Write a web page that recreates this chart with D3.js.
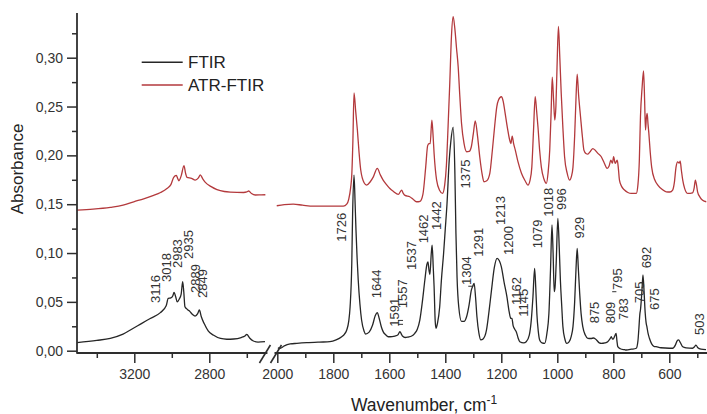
<!DOCTYPE html>
<html>
<head>
<meta charset="utf-8">
<script src="https://cdn.jsdelivr.net/npm/d3@7/dist/d3.min.js"></script>
<style>
  html, body { margin: 0; padding: 0; background: #fff; }
  svg { display: block; font-family: Arial, "Liberation Sans", Helvetica, sans-serif; }
</style>
</head>
<body>
<svg id="chart" width="707" height="414"></svg>
<script>
// ---------------- DATA ----------------
// FTIR (black) – high wavenumber segment [wavenumber, absorbance]
const ftirHigh = [
  [3505,0.0082],[3400,0.0105],[3328,0.0127],[3260,0.017],[3221,0.0212],[3160,0.028],
  [3115,0.033],[3061,0.039],[3030,0.046],[3019,0.0536],[3005,0.054],[2995,0.056],[2988,0.0598],
  [2979,0.055],[2971,0.050],[2960,0.053],[2950,0.058],[2942,0.0706],[2936,0.060],[2930,0.045],
  [2915,0.042],[2903,0.040],[2889,0.037],[2876,0.0355],[2862,0.038],[2853,0.0417],[2843,0.035],
  [2828,0.028],[2805,0.020],[2779,0.016],[2740,0.0125],[2707,0.0117],[2670,0.012],
  [2630,0.0135],[2610,0.015],[2600,0.0168],[2585,0.013],[2565,0.0099],[2540,0.0088],[2503,0.0092]
];
// ATR-FTIR (red) – high wavenumber segment
const atrHigh = [
  [3505,0.144],[3420,0.145],[3328,0.1468],[3260,0.149],[3203,0.1525],[3150,0.1555],
  [3097,0.159],[3060,0.162],[3026,0.166],[3005,0.170],[2990,0.1775],[2976,0.1795],
  [2968,0.176],[2962,0.174],[2950,0.179],[2935,0.1894],[2927,0.182],[2919,0.1775],
  [2895,0.1765],[2875,0.1747],[2858,0.177],[2848,0.180],[2835,0.176],[2821,0.1723],
  [2790,0.168],[2759,0.165],[2720,0.163],[2688,0.1624],[2617,0.162],[2600,0.1625],
  [2590,0.1635],[2575,0.161],[2555,0.1594],[2530,0.1595],[2501,0.1597]
];
// FTIR (black) – low wavenumber segment
const ftirLow = [
  [1998,0.003],[1990,0.0025],[1975,0.005],[1954,0.0069],[1930,0.0075],[1895,0.0082],
  [1850,0.0088],[1812,0.0092],[1790,0.011],[1770,0.0143],[1760,0.017],[1752,0.0212],
  [1745,0.030],[1740,0.045],[1734,0.0895],[1731,0.1406],[1726,0.1798],[1722,0.150],
  [1719,0.1235],[1715,0.095],[1711,0.0724],[1705,0.048],[1699,0.0314],[1690,0.020],
  [1685,0.017],[1672,0.019],[1660,0.026],[1650,0.036],[1643,0.039],[1636,0.033],
  [1628,0.024],[1622,0.0195],[1612,0.016],[1604,0.0143],[1590,0.0145],[1580,0.015],
  [1570,0.016],[1562,0.0195],[1557,0.017],[1553,0.015],[1543,0.0135],[1533,0.014],
  [1520,0.015],[1509,0.0178],[1500,0.022],[1491,0.0314],[1482,0.050],[1473,0.0724],
  [1466,0.088],[1462,0.091],[1458,0.082],[1455,0.078],[1450,0.100],[1447,0.108],
  [1443,0.085],[1440,0.0655],[1436,0.030],[1433,0.023],[1428,0.028],[1420,0.045],
  [1414,0.072],[1406,0.100],[1400,0.125],[1394,0.150],[1386,0.195],[1380,0.215],
  [1372,0.229],[1366,0.185],[1362,0.12],[1358,0.075],[1352,0.045],[1342,0.030],
  [1333,0.030],[1324,0.0348],[1315,0.047],[1307,0.062],[1302,0.066],[1297,0.069],
  [1292,0.055],[1287,0.0348],[1280,0.018],[1273,0.011],[1265,0.012],[1253,0.021],
  [1244,0.040],[1235,0.062],[1225,0.085],[1215,0.0946],[1207,0.092],[1200,0.086],
  [1190,0.070],[1180,0.0553],[1172,0.040],[1166,0.033],[1162,0.033],[1158,0.026],
  [1152,0.022],[1146,0.019],[1140,0.013],[1134,0.0092],[1120,0.008],[1111,0.0092],
  [1100,0.016],[1093,0.031],[1087,0.055],[1081,0.0843],[1077,0.065],[1073,0.038],
  [1068,0.020],[1063,0.011],[1055,0.008],[1045,0.0075],[1037,0.018],[1030,0.038],
  [1024,0.085],[1019,0.1287],[1015,0.100],[1011,0.0604],[1008,0.065],[1004,0.0894],
  [998,0.1355],[993,0.105],[989,0.0724],[984,0.045],[980,0.0246],[973,0.012],
  [966,0.0075],[958,0.009],[950,0.015],[944,0.0246],[938,0.050],[933,0.085],
  [929,0.1048],[925,0.085],[920,0.0587],[915,0.038],[909,0.0246],[900,0.016],
  [891,0.0127],[880,0.0125],[870,0.013],[860,0.011],[850,0.008],[843,0.0075],
  [830,0.008],[820,0.0092],[812,0.012],[807,0.0143],[803,0.012],[800,0.012],
  [795,0.0150],[790,0.0178],[787,0.010],[784,0.0041],[775,0.002],[760,0.001],
  [754,0.0007],[735,0.0015],[718,0.0025],[712,0.010],[709,0.0212],[705,0.038],
  [703,0.0417],[698,0.060],[694,0.0775],[690,0.060],[686,0.0383],[683,0.029],
  [680,0.0246],[676,0.018],[671,0.0127],[663,0.007],[655,0.0045],[647,0.0041],
  [630,0.003],[600,0.0025],[588,0.0025],[578,0.006],[572,0.010],[567,0.011],
  [560,0.008],[552,0.0041],[540,0.003],[517,0.0025],[510,0.004],[505,0.0058],
  [498,0.003],[487,0.0015],[469,0.001]
];
// ATR-FTIR (red) – low wavenumber segment
const atrLow = [
  [2002,0.1484],[1975,0.1495],[1943,0.150],[1910,0.149],[1871,0.148],[1820,0.148],
  [1764,0.148],[1752,0.150],[1745,0.155],[1738,0.167],[1734,0.180],[1730,0.215],
  [1726,0.264],[1720,0.245],[1714,0.226],[1708,0.203],[1702,0.185],[1690,0.172],
  [1681,0.1696],[1668,0.173],[1657,0.178],[1643,0.1867],[1632,0.180],[1622,0.1747],
  [1610,0.170],[1598,0.166],[1585,0.163],[1568,0.160],[1556,0.1645],[1550,0.161],
  [1544,0.159],[1527,0.1576],[1515,0.155],[1503,0.1525],[1490,0.153],[1480,0.160],
  [1470,0.188],[1463,0.210],[1458,0.212],[1454,0.212],[1448,0.236],[1444,0.222],
  [1440,0.202],[1431,0.1747],[1420,0.164],[1410,0.161],[1402,0.170],[1396,0.190],
  [1390,0.230],[1384,0.274],[1378,0.322],[1372,0.342],[1366,0.330],[1360,0.310],
  [1354,0.2907],[1348,0.260],[1342,0.2327],[1333,0.212],[1324,0.2037],[1315,0.204],
  [1307,0.2088],[1300,0.222],[1293,0.2354],[1285,0.220],[1277,0.1986],[1268,0.180],
  [1262,0.173],[1252,0.174],[1241,0.1816],[1232,0.205],[1224,0.229],[1216,0.250],
  [1210,0.2566],[1200,0.260],[1193,0.255],[1188,0.2464],[1178,0.228],[1170,0.2157],
  [1166,0.212],[1161,0.2198],[1156,0.212],[1150,0.2054],[1140,0.193],[1128,0.1816],
  [1115,0.174],[1105,0.1696],[1097,0.175],[1091,0.188],[1085,0.225],[1079,0.260],
  [1074,0.246],[1069,0.229],[1063,0.205],[1057,0.188],[1048,0.176],[1039,0.1713],
  [1033,0.182],[1027,0.2054],[1022,0.245],[1018,0.280],[1013,0.255],[1009,0.236],
  [1005,0.250],[1001,0.290],[996,0.332],[991,0.300],[986,0.2635],[980,0.228],
  [974,0.1986],[965,0.182],[956,0.1747],[950,0.178],[944,0.188],[938,0.220],
  [933,0.260],[929,0.2832],[924,0.262],[917,0.2395],[910,0.218],[905,0.2054],
  [898,0.202],[891,0.2013],[882,0.204],[873,0.207],[864,0.205],[855,0.202],
  [843,0.1986],[832,0.192],[822,0.1867],[815,0.189],[809,0.195],[803,0.192],
  [799,0.1986],[793,0.1918],[786,0.195],[782,0.187],[778,0.1747],[770,0.168],
  [760,0.1645],[748,0.162],[736,0.161],[718,0.161],[712,0.170],[707,0.195],
  [703,0.2395],[697,0.270],[692,0.2866],[688,0.255],[685,0.2259],[682,0.238],
  [679,0.243],[676,0.232],[673,0.2225],[668,0.203],[663,0.188],[652,0.175],
  [641,0.1696],[625,0.165],[611,0.1627],[598,0.1625],[588,0.1645],[582,0.172],
  [576,0.188],[570,0.1934],[565,0.192],[561,0.194],[557,0.185],[552,0.1747],
  [545,0.166],[534,0.161],[517,0.1617],[511,0.167],[507,0.1747],[503,0.170],
  [499,0.1627],[490,0.157],[481,0.154],[468,0.1525]
];
// Peak labels: text, segment, wavenumber & absorbance of the label's lower end
const peakLabelsHigh = [
  ["3116",3089,0.0488],["3018",3026,0.0703],["2983",2967,0.0846],
  ["2935",2911,0.0939],["2889",2876,0.0591],["2849",2834,0.0539]
];
const peakLabelsLow = [
  ["1726",1770,0.1116],["1644",1645,0.0536],["1591",1580,0.0246],["1557",1553,0.0434],
  ["1537",1520,0.0826],["1462",1477,0.1099],["1442",1431,0.1235],["1375",1327,0.1662],
  ["1304",1324,0.0672],["1291",1283,0.0962],["1213",1202,0.1287],["1200",1176,0.098],
  ["1162",1144,0.0468],["1145",1120,0.0348],["1079",1069,0.1048],["1018",1030,0.1372],
  ["996",986,0.144],["929",920,0.115],["875",867,0.028],["809",811,0.028],
  ["795",784,0.0621],["783",764,0.0314],["705",707,0.0485],["692",683,0.0843],
  ["675",653,0.0417],["503",493,0.0161]
];
const yTickValues = [0, 0.05, 0.10, 0.15, 0.20, 0.25, 0.30];
const yMinorValues = [0.025, 0.075, 0.125, 0.175, 0.225, 0.275, 0.325];
const xHighMajor = [3200, 2800];
const xHighMinor = [3400, 3000, 2600];
const xLowMajor = [2000, 1800, 1600, 1400, 1200, 1000, 800, 600];
const xLowMinor = [1900, 1700, 1500, 1300, 1100, 900, 700, 500];
const seriesNames = ["FTIR", "ATR-FTIR"];
const seriesColors = ["#262626", "#b3393c"];

// ---------------- LAYOUT ----------------
const svg = d3.select("#chart");
const axisColor = "#2e2e2e";
const textColor = "#333";
const plotTop = 13, plotBottom = 353, axisX = 77;

const y = d3.scaleLinear().domain([0, 0.30]).range([350.7, 57.7]);
const xH = d3.scaleLinear().domain([3500, 2500]).range([78.05, 265.55]);
const xL = d3.scaleLinear().domain([2000, 600]).range([277.3, 669.3]);

svg.append("defs").append("clipPath").attr("id", "clip")
  .append("rect").attr("x", axisX).attr("y", 0).attr("width", 707 - axisX).attr("height", plotBottom);

const lineH = d3.line().x(d => xH(d[0])).y(d => y(d[1])).curve(d3.curveMonotoneX);
const lineL = d3.line().x(d => xL(d[0])).y(d => y(d[1])).curve(d3.curveMonotoneX);

const plot = svg.append("g").attr("clip-path", "url(#clip)");
plot.append("path").datum(atrHigh).attr("d", lineH).attr("fill", "none")
  .attr("stroke", seriesColors[1]).attr("stroke-width", 1.3).attr("stroke-linejoin", "round");
plot.append("path").datum(atrLow).attr("d", lineL).attr("fill", "none")
  .attr("stroke", seriesColors[1]).attr("stroke-width", 1.3).attr("stroke-linejoin", "round");
plot.append("path").datum(ftirHigh).attr("d", lineH).attr("fill", "none")
  .attr("stroke", seriesColors[0]).attr("stroke-width", 1.3).attr("stroke-linejoin", "round");
plot.append("path").datum(ftirLow).attr("d", lineL).attr("fill", "none")
  .attr("stroke", seriesColors[0]).attr("stroke-width", 1.3).attr("stroke-linejoin", "round");

// ---------------- Y AXIS ----------------
const fmt = d => d.toFixed(2).replace(".", ",");
const yAxisG = svg.append("g").attr("transform", `translate(${axisX},0)`)
  .call(d3.axisLeft(y).tickValues(yTickValues).tickFormat(fmt).tickSize(10).tickPadding(4));
yAxisG.select(".domain").remove();
yAxisG.selectAll(".tick line").attr("stroke", axisColor).attr("stroke-width", 1.5);
yAxisG.selectAll(".tick text").attr("fill", textColor).attr("font-size", 14)
  .attr("font-family", "Arial, 'Liberation Sans', sans-serif");
const yMinorG = svg.append("g").attr("transform", `translate(${axisX},0)`)
  .call(d3.axisLeft(y).tickValues(yMinorValues).tickFormat("").tickSize(5));
yMinorG.select(".domain").remove();
yMinorG.selectAll(".tick line").attr("stroke", axisColor).attr("stroke-width", 1.5);
svg.append("line").attr("x1", axisX).attr("x2", axisX).attr("y1", plotTop).attr("y2", plotBottom + 0.8)
  .attr("stroke", axisColor).attr("stroke-width", 1.8);

// ---------------- X AXES ----------------
function xAxis(scale, major, minor, x1, x2) {
  const g = svg.append("g").attr("transform", `translate(0,${plotBottom})`)
    .call(d3.axisBottom(scale).tickValues(major).tickFormat(d3.format("d")).tickSize(10).tickPadding(6));
  g.select(".domain").remove();
  g.selectAll(".tick line").attr("stroke", axisColor).attr("stroke-width", 1.5);
  g.selectAll(".tick text").attr("fill", textColor).attr("font-size", 14)
    .attr("font-family", "Arial, 'Liberation Sans', sans-serif");
  const gm = svg.append("g").attr("transform", `translate(0,${plotBottom})`)
    .call(d3.axisBottom(scale).tickValues(minor).tickFormat("").tickSize(5));
  gm.select(".domain").remove();
  gm.selectAll(".tick line").attr("stroke", axisColor).attr("stroke-width", 1.5);
  svg.append("line").attr("x1", x1).attr("x2", x2).attr("y1", plotBottom).attr("y2", plotBottom)
    .attr("stroke", axisColor).attr("stroke-width", 1.8);
}
xAxis(xH, xHighMajor, xHighMinor, axisX, xH(2490));
xAxis(xL, xLowMajor, xLowMinor, xL(2010), 707);

// axis break marks
const brk = svg.append("g").attr("stroke", axisColor).attr("stroke-width", 1.6);
brk.append("line").attr("x1", xH(2490) - 8).attr("y1", plotBottom + 10).attr("x2", xH(2490) + 3).attr("y2", plotBottom - 8);
brk.append("line").attr("x1", xL(2010) - 4).attr("y1", plotBottom + 10).attr("x2", xL(2010) + 7).attr("y2", plotBottom - 8);

// ---------------- PEAK LABELS ----------------
function peakLabels(arr, scale) {
  svg.append("g").selectAll("text").data(arr).join("text")
    .attr("transform", d => `translate(${scale(d[1])},${y(d[2])}) rotate(-90)`)
    .attr("dominant-baseline", "central")
    .attr("text-anchor", "start")
    .attr("font-size", 13)
    .attr("fill", textColor)
    .text(d => d[0]);
}
peakLabels(peakLabelsHigh, xH);
peakLabels(peakLabelsLow, xL);
// small leader marks
const lead = svg.append("g").attr("stroke", textColor).attr("stroke-width", 1);
lead.append("line").attr("x1", xL(1569)).attr("x2", xL(1551)).attr("y1", y(0.031)).attr("y2", y(0.031));
lead.append("line").attr("x1", xL(1569)).attr("x2", xL(1551)).attr("y1", y(0.027)).attr("y2", y(0.027));
lead.append("line").attr("x1", xL(1318)).attr("x2", xL(1300)).attr("y1", y(0.066)).attr("y2", y(0.066));
lead.append("line").attr("x1", xL(804)).attr("x2", xL(789)).attr("y1", y(0.0604)).attr("y2", y(0.0604));

// ---------------- AXIS TITLES ----------------
const xt = svg.append("text").attr("x", 351).attr("y", 411).attr("font-size", 17.5).attr("fill", "#222")
  .text("Wavenumber, cm");
xt.append("tspan").attr("font-size", 12).attr("dy", -7).text("-1");
svg.append("text").attr("transform", "translate(23,169) rotate(-90)")
  .attr("text-anchor", "middle").attr("font-size", 17).attr("fill", "#222").text("Absorbance");

// ---------------- LEGEND ----------------
const legend = svg.append("g");
seriesNames.forEach((name, i) => {
  const ly = 62.3 + i * 22.7;
  legend.append("line").attr("x1", 141.7).attr("x2", 182.7).attr("y1", ly).attr("y2", ly)
    .attr("stroke", seriesColors[i]).attr("stroke-width", 1.4);
  legend.append("text").attr("x", 188).attr("y", ly + 6).attr("font-size", 17).attr("fill", "#222").text(name);
});
</script>
</body>
</html>
